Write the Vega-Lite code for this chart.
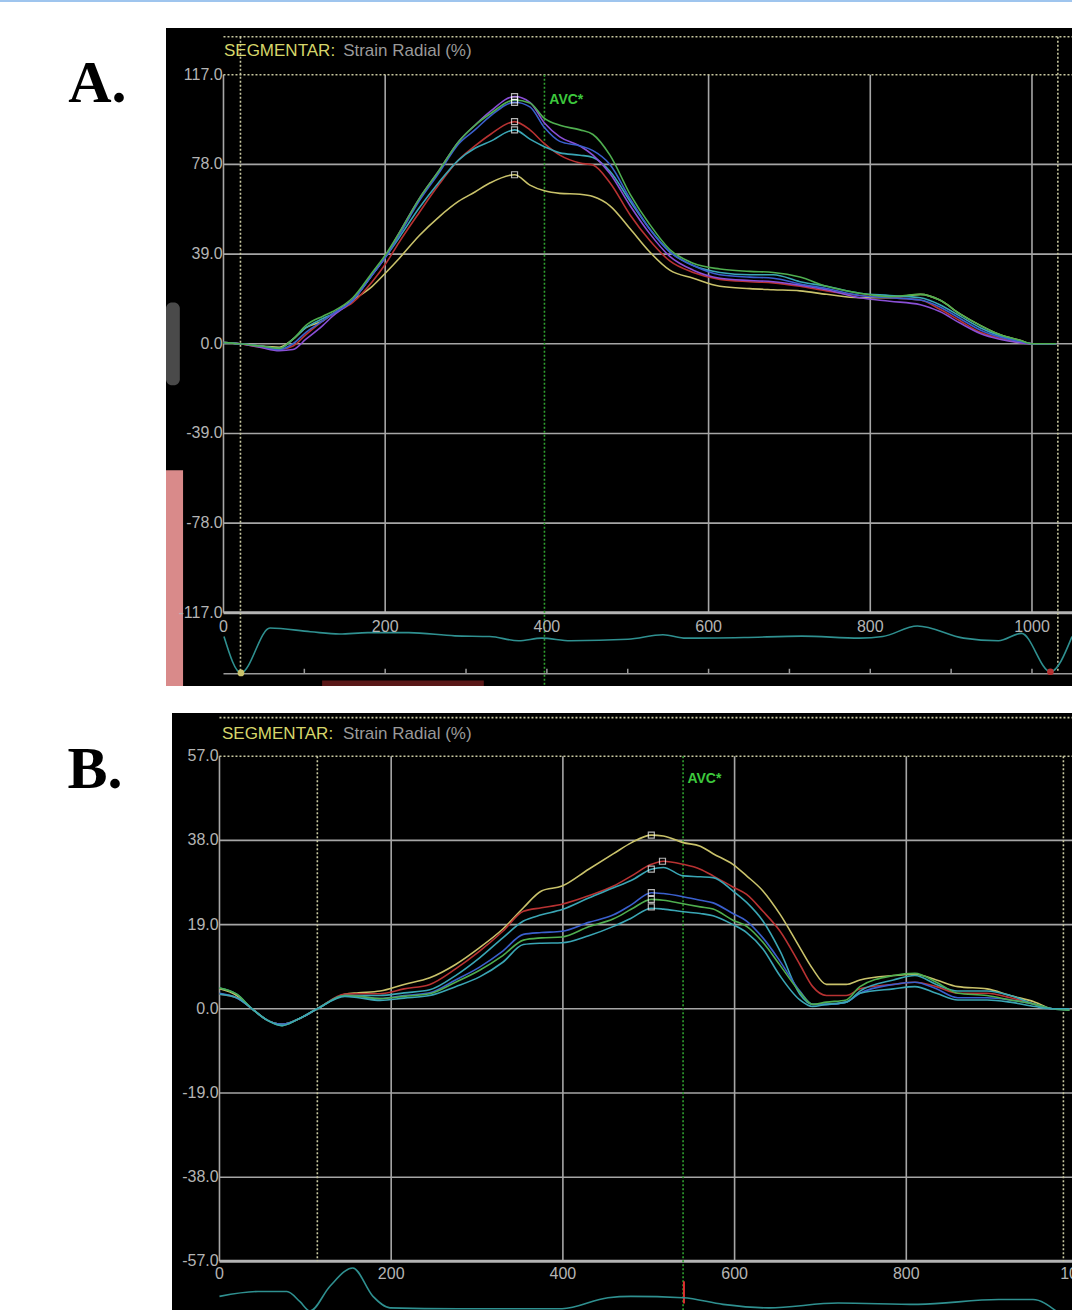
{
  "$schema": "https://vega.github.io/schema/vega-lite/v6.json",
  "padding": 0,
  "spacing": 26,
  "background": "white",
  "config": {"view": {"stroke": null}},
  "datasets": {
    "a_curves": [
      {"seg":"yellow","t":0,"v":0.5},{"seg":"yellow","t":20,"v":0},{"seg":"yellow","t":45,"v":-1},{"seg":"yellow","t":69,"v":-1.5},{"seg":"yellow","t":86,"v":2},{"seg":"yellow","t":102,"v":7},{"seg":"yellow","t":123,"v":10},{"seg":"yellow","t":135,"v":13},{"seg":"yellow","t":160,"v":19},{"seg":"yellow","t":184,"v":25},{"seg":"yellow","t":201,"v":31},{"seg":"yellow","t":217,"v":37},{"seg":"yellow","t":242,"v":47},{"seg":"yellow","t":266,"v":55},{"seg":"yellow","t":291,"v":62},{"seg":"yellow","t":311,"v":66},{"seg":"yellow","t":330,"v":70},{"seg":"yellow","t":360,"v":73.5},{"seg":"yellow","t":379,"v":69},{"seg":"yellow","t":397,"v":66.5},{"seg":"yellow","t":416,"v":65.4},{"seg":"yellow","t":441,"v":65},{"seg":"yellow","t":457,"v":64},{"seg":"yellow","t":478,"v":60},{"seg":"yellow","t":503,"v":50},{"seg":"yellow","t":527,"v":40},{"seg":"yellow","t":552,"v":32},{"seg":"yellow","t":581,"v":28.5},{"seg":"yellow","t":614,"v":25},{"seg":"yellow","t":651,"v":24},{"seg":"yellow","t":680,"v":23.5},{"seg":"yellow","t":713,"v":23},{"seg":"yellow","t":746,"v":21.5},{"seg":"yellow","t":787,"v":20},{"seg":"yellow","t":824,"v":20},{"seg":"yellow","t":862,"v":21.5},{"seg":"yellow","t":886,"v":19},{"seg":"yellow","t":911,"v":13},{"seg":"yellow","t":936,"v":8},{"seg":"yellow","t":960,"v":4},{"seg":"yellow","t":985,"v":1.5},{"seg":"yellow","t":1001,"v":0},{"seg":"yellow","t":1030,"v":0},
      {"seg":"red","t":0,"v":0.5},{"seg":"red","t":20,"v":0},{"seg":"red","t":45,"v":-1.5},{"seg":"red","t":69,"v":-2.5},{"seg":"red","t":86,"v":-1},{"seg":"red","t":102,"v":4},{"seg":"red","t":123,"v":10},{"seg":"red","t":135,"v":13},{"seg":"red","t":160,"v":18},{"seg":"red","t":184,"v":27},{"seg":"red","t":201,"v":35},{"seg":"red","t":217,"v":44},{"seg":"red","t":242,"v":57},{"seg":"red","t":266,"v":69},{"seg":"red","t":291,"v":80},{"seg":"red","t":311,"v":86},{"seg":"red","t":330,"v":91},{"seg":"red","t":360,"v":96.6},{"seg":"red","t":379,"v":93},{"seg":"red","t":397,"v":87},{"seg":"red","t":416,"v":82},{"seg":"red","t":441,"v":78.6},{"seg":"red","t":457,"v":77.7},{"seg":"red","t":478,"v":70},{"seg":"red","t":503,"v":56},{"seg":"red","t":527,"v":45},{"seg":"red","t":552,"v":36},{"seg":"red","t":581,"v":31},{"seg":"red","t":614,"v":28},{"seg":"red","t":651,"v":27},{"seg":"red","t":680,"v":26.5},{"seg":"red","t":713,"v":25},{"seg":"red","t":746,"v":23},{"seg":"red","t":787,"v":21},{"seg":"red","t":824,"v":20},{"seg":"red","t":862,"v":19},{"seg":"red","t":886,"v":15},{"seg":"red","t":911,"v":10},{"seg":"red","t":936,"v":5},{"seg":"red","t":960,"v":2.5},{"seg":"red","t":985,"v":0.5},{"seg":"red","t":1001,"v":0},{"seg":"red","t":1030,"v":0},
      {"seg":"cyan","t":0,"v":0.5},{"seg":"cyan","t":20,"v":0},{"seg":"cyan","t":45,"v":-1},{"seg":"cyan","t":69,"v":-2},{"seg":"cyan","t":86,"v":2},{"seg":"cyan","t":102,"v":7},{"seg":"cyan","t":123,"v":11},{"seg":"cyan","t":135,"v":13},{"seg":"cyan","t":160,"v":19},{"seg":"cyan","t":184,"v":30},{"seg":"cyan","t":201,"v":38},{"seg":"cyan","t":217,"v":46},{"seg":"cyan","t":242,"v":59},{"seg":"cyan","t":266,"v":70},{"seg":"cyan","t":291,"v":80},{"seg":"cyan","t":311,"v":85},{"seg":"cyan","t":330,"v":88},{"seg":"cyan","t":360,"v":93},{"seg":"cyan","t":379,"v":89},{"seg":"cyan","t":397,"v":85.7},{"seg":"cyan","t":416,"v":83},{"seg":"cyan","t":441,"v":82},{"seg":"cyan","t":457,"v":81},{"seg":"cyan","t":478,"v":75},{"seg":"cyan","t":503,"v":62},{"seg":"cyan","t":527,"v":50},{"seg":"cyan","t":552,"v":40},{"seg":"cyan","t":581,"v":34},{"seg":"cyan","t":614,"v":31},{"seg":"cyan","t":651,"v":30},{"seg":"cyan","t":680,"v":30},{"seg":"cyan","t":713,"v":27},{"seg":"cyan","t":746,"v":25},{"seg":"cyan","t":787,"v":22},{"seg":"cyan","t":824,"v":21},{"seg":"cyan","t":862,"v":20},{"seg":"cyan","t":886,"v":17},{"seg":"cyan","t":911,"v":12},{"seg":"cyan","t":936,"v":7},{"seg":"cyan","t":960,"v":3.5},{"seg":"cyan","t":985,"v":1},{"seg":"cyan","t":1001,"v":0},{"seg":"cyan","t":1030,"v":0},
      {"seg":"purple","t":0,"v":0.5},{"seg":"purple","t":20,"v":0},{"seg":"purple","t":45,"v":-1.5},{"seg":"purple","t":69,"v":-3},{"seg":"purple","t":86,"v":-2.5},{"seg":"purple","t":102,"v":2},{"seg":"purple","t":123,"v":8},{"seg":"purple","t":135,"v":12},{"seg":"purple","t":160,"v":19},{"seg":"purple","t":184,"v":30},{"seg":"purple","t":201,"v":38},{"seg":"purple","t":217,"v":48},{"seg":"purple","t":242,"v":63},{"seg":"purple","t":266,"v":75},{"seg":"purple","t":291,"v":88},{"seg":"purple","t":311,"v":95},{"seg":"purple","t":330,"v":101},{"seg":"purple","t":360,"v":107.5},{"seg":"purple","t":379,"v":105},{"seg":"purple","t":397,"v":96},{"seg":"purple","t":416,"v":90},{"seg":"purple","t":441,"v":86},{"seg":"purple","t":457,"v":82},{"seg":"purple","t":478,"v":74},{"seg":"purple","t":503,"v":60},{"seg":"purple","t":527,"v":48},{"seg":"purple","t":552,"v":38},{"seg":"purple","t":581,"v":32},{"seg":"purple","t":614,"v":28.5},{"seg":"purple","t":651,"v":27.5},{"seg":"purple","t":680,"v":27},{"seg":"purple","t":713,"v":25.5},{"seg":"purple","t":746,"v":23.5},{"seg":"purple","t":787,"v":20},{"seg":"purple","t":824,"v":18.5},{"seg":"purple","t":862,"v":17},{"seg":"purple","t":886,"v":14},{"seg":"purple","t":911,"v":9},{"seg":"purple","t":936,"v":4.5},{"seg":"purple","t":960,"v":2},{"seg":"purple","t":985,"v":0.5},{"seg":"purple","t":1001,"v":0},{"seg":"purple","t":1030,"v":0},
      {"seg":"blue","t":0,"v":0.5},{"seg":"blue","t":20,"v":0},{"seg":"blue","t":45,"v":-1},{"seg":"blue","t":69,"v":-2.5},{"seg":"blue","t":86,"v":0},{"seg":"blue","t":102,"v":5},{"seg":"blue","t":123,"v":10},{"seg":"blue","t":135,"v":13},{"seg":"blue","t":160,"v":19},{"seg":"blue","t":184,"v":30},{"seg":"blue","t":201,"v":38},{"seg":"blue","t":217,"v":47},{"seg":"blue","t":242,"v":62},{"seg":"blue","t":266,"v":74},{"seg":"blue","t":291,"v":87},{"seg":"blue","t":311,"v":93},{"seg":"blue","t":330,"v":99},{"seg":"blue","t":360,"v":105},{"seg":"blue","t":379,"v":103},{"seg":"blue","t":397,"v":94},{"seg":"blue","t":416,"v":88},{"seg":"blue","t":441,"v":86},{"seg":"blue","t":457,"v":84},{"seg":"blue","t":478,"v":78},{"seg":"blue","t":503,"v":63},{"seg":"blue","t":527,"v":50},{"seg":"blue","t":552,"v":40},{"seg":"blue","t":581,"v":34},{"seg":"blue","t":614,"v":30},{"seg":"blue","t":651,"v":29},{"seg":"blue","t":680,"v":28.5},{"seg":"blue","t":713,"v":26},{"seg":"blue","t":746,"v":24},{"seg":"blue","t":787,"v":21},{"seg":"blue","t":824,"v":20},{"seg":"blue","t":862,"v":19},{"seg":"blue","t":886,"v":16},{"seg":"blue","t":911,"v":11},{"seg":"blue","t":936,"v":6},{"seg":"blue","t":960,"v":3},{"seg":"blue","t":985,"v":1},{"seg":"blue","t":1001,"v":0},{"seg":"blue","t":1030,"v":0},
      {"seg":"green","t":0,"v":0.5},{"seg":"green","t":20,"v":0},{"seg":"green","t":45,"v":-1},{"seg":"green","t":69,"v":-2},{"seg":"green","t":86,"v":2},{"seg":"green","t":102,"v":8},{"seg":"green","t":123,"v":12},{"seg":"green","t":135,"v":14},{"seg":"green","t":160,"v":20},{"seg":"green","t":184,"v":31},{"seg":"green","t":201,"v":39},{"seg":"green","t":217,"v":48},{"seg":"green","t":242,"v":63},{"seg":"green","t":266,"v":75},{"seg":"green","t":291,"v":88},{"seg":"green","t":311,"v":95},{"seg":"green","t":330,"v":100},{"seg":"green","t":360,"v":106},{"seg":"green","t":379,"v":104.7},{"seg":"green","t":397,"v":98},{"seg":"green","t":416,"v":95},{"seg":"green","t":441,"v":93},{"seg":"green","t":457,"v":91},{"seg":"green","t":478,"v":82},{"seg":"green","t":503,"v":65},{"seg":"green","t":527,"v":52},{"seg":"green","t":552,"v":41},{"seg":"green","t":581,"v":35},{"seg":"green","t":614,"v":32.5},{"seg":"green","t":651,"v":31.5},{"seg":"green","t":680,"v":31},{"seg":"green","t":713,"v":29},{"seg":"green","t":746,"v":25},{"seg":"green","t":787,"v":22},{"seg":"green","t":824,"v":20.5},{"seg":"green","t":862,"v":21.5},{"seg":"green","t":886,"v":19},{"seg":"green","t":911,"v":13},{"seg":"green","t":936,"v":8},{"seg":"green","t":960,"v":4},{"seg":"green","t":985,"v":1.5},{"seg":"green","t":1001,"v":0},{"seg":"green","t":1030,"v":0}
    ],
    "a_peaks": [
      {"seg":"purple","t":360,"v":107.5},{"seg":"green","t":360,"v":106},{"seg":"blue","t":360,"v":105},{"seg":"red","t":360,"v":96.6},{"seg":"cyan","t":360,"v":93},{"seg":"yellow","t":360,"v":73.5}
    ],
    "a_ecg": [
      {"t":0.6,"v":-127.3},{"t":21.6,"v":-143.1},{"t":57.5,"v":-123.6},{"t":107.6,"v":-125.2},{"t":143.4,"v":-126.2},{"t":178.7,"v":-125.6},{"t":229.2,"v":-125.6},{"t":286.3,"v":-127.0},{"t":329.3,"v":-127.3},{"t":365,"v":-129.1},{"t":393.6,"v":-128.0},{"t":429.3,"v":-129.1},{"t":500.3,"v":-128.5},{"t":543.6,"v":-126.5},{"t":572,"v":-128.0},{"t":643.8,"v":-127.7},{"t":715.3,"v":-127.1},{"t":786.8,"v":-128.0},{"t":815.5,"v":-127.3},{"t":858.3,"v":-122.7},{"t":915.5,"v":-128.0},{"t":958.5,"v":-129.1},{"t":987,"v":-125.9},{"t":1022.8,"v":-142.6},{"t":1049.5,"v":-127.3}
    ],
    "a_ecg_marks": [
      {"kind":"start","t":21.6,"v":-143.1},{"kind":"end","t":1022.8,"v":-142.6}
    ],
    "b_curves": [
      {"seg":"yellow","t":0,"v":4.5},{"seg":"yellow","t":20,"v":3},{"seg":"yellow","t":38,"v":0},{"seg":"yellow","t":55,"v":-2.5},{"seg":"yellow","t":73,"v":-3.5},{"seg":"yellow","t":90,"v":-2.5},{"seg":"yellow","t":114,"v":0},{"seg":"yellow","t":146,"v":3.3},{"seg":"yellow","t":162,"v":3.6},{"seg":"yellow","t":187,"v":4},{"seg":"yellow","t":215,"v":5.5},{"seg":"yellow","t":245,"v":7},{"seg":"yellow","t":275,"v":10},{"seg":"yellow","t":303,"v":13.8},{"seg":"yellow","t":330,"v":18},{"seg":"yellow","t":354,"v":22.8},{"seg":"yellow","t":375,"v":26.6},{"seg":"yellow","t":399,"v":27.7},{"seg":"yellow","t":430,"v":31.5},{"seg":"yellow","t":459,"v":35},{"seg":"yellow","t":480,"v":37.5},{"seg":"yellow","t":503,"v":39.2},{"seg":"yellow","t":517,"v":39},{"seg":"yellow","t":540,"v":37.5},{"seg":"yellow","t":560,"v":36.7},{"seg":"yellow","t":575,"v":35},{"seg":"yellow","t":598,"v":32.6},{"seg":"yellow","t":614,"v":30},{"seg":"yellow","t":633,"v":26.6},{"seg":"yellow","t":653,"v":21.3},{"seg":"yellow","t":676,"v":13.8},{"seg":"yellow","t":691,"v":9},{"seg":"yellow","t":707,"v":5.5},{"seg":"yellow","t":730,"v":5.5},{"seg":"yellow","t":746,"v":6.5},{"seg":"yellow","t":785,"v":7.5},{"seg":"yellow","t":810,"v":7.8},{"seg":"yellow","t":835,"v":6.5},{"seg":"yellow","t":860,"v":5},{"seg":"yellow","t":894,"v":4.5},{"seg":"yellow","t":921,"v":3},{"seg":"yellow","t":950,"v":1.5},{"seg":"yellow","t":970,"v":0},{"seg":"yellow","t":990,"v":0},
      {"seg":"red","t":0,"v":3.3},{"seg":"red","t":20,"v":2.5},{"seg":"red","t":38,"v":0},{"seg":"red","t":55,"v":-2.5},{"seg":"red","t":73,"v":-3.5},{"seg":"red","t":90,"v":-2.5},{"seg":"red","t":114,"v":0},{"seg":"red","t":146,"v":3.3},{"seg":"red","t":162,"v":3.4},{"seg":"red","t":187,"v":3.4},{"seg":"red","t":215,"v":4.5},{"seg":"red","t":245,"v":5.5},{"seg":"red","t":275,"v":9},{"seg":"red","t":303,"v":13},{"seg":"red","t":330,"v":17.5},{"seg":"red","t":354,"v":22},{"seg":"red","t":375,"v":22.8},{"seg":"red","t":399,"v":23.6},{"seg":"red","t":430,"v":25.5},{"seg":"red","t":459,"v":27.7},{"seg":"red","t":480,"v":30},{"seg":"red","t":503,"v":32.6},{"seg":"red","t":517,"v":33.3},{"seg":"red","t":540,"v":32.6},{"seg":"red","t":560,"v":31.5},{"seg":"red","t":575,"v":30},{"seg":"red","t":598,"v":27.5},{"seg":"red","t":614,"v":25.8},{"seg":"red","t":633,"v":22},{"seg":"red","t":653,"v":17.5},{"seg":"red","t":676,"v":10},{"seg":"red","t":691,"v":5},{"seg":"red","t":707,"v":3},{"seg":"red","t":730,"v":3},{"seg":"red","t":746,"v":4.5},{"seg":"red","t":785,"v":5.5},{"seg":"red","t":810,"v":6},{"seg":"red","t":835,"v":5},{"seg":"red","t":860,"v":3.5},{"seg":"red","t":894,"v":3.5},{"seg":"red","t":921,"v":2.5},{"seg":"red","t":950,"v":1},{"seg":"red","t":970,"v":0},{"seg":"red","t":990,"v":0},
      {"seg":"cyan","t":0,"v":4.7},{"seg":"cyan","t":20,"v":3.3},{"seg":"cyan","t":38,"v":0},{"seg":"cyan","t":55,"v":-2.5},{"seg":"cyan","t":73,"v":-3.5},{"seg":"cyan","t":90,"v":-2.5},{"seg":"cyan","t":114,"v":0},{"seg":"cyan","t":146,"v":3},{"seg":"cyan","t":162,"v":3},{"seg":"cyan","t":187,"v":3},{"seg":"cyan","t":215,"v":3.6},{"seg":"cyan","t":245,"v":4.3},{"seg":"cyan","t":275,"v":7.5},{"seg":"cyan","t":303,"v":11.5},{"seg":"cyan","t":330,"v":16},{"seg":"cyan","t":354,"v":19.8},{"seg":"cyan","t":375,"v":21.2},{"seg":"cyan","t":399,"v":22.4},{"seg":"cyan","t":430,"v":25},{"seg":"cyan","t":459,"v":27.3},{"seg":"cyan","t":480,"v":29},{"seg":"cyan","t":503,"v":31.5},{"seg":"cyan","t":517,"v":31.9},{"seg":"cyan","t":540,"v":30},{"seg":"cyan","t":560,"v":29.8},{"seg":"cyan","t":575,"v":29.6},{"seg":"cyan","t":598,"v":26.6},{"seg":"cyan","t":614,"v":24},{"seg":"cyan","t":633,"v":19.8},{"seg":"cyan","t":653,"v":13},{"seg":"cyan","t":676,"v":3.3},{"seg":"cyan","t":691,"v":1},{"seg":"cyan","t":707,"v":1},{"seg":"cyan","t":730,"v":1.5},{"seg":"cyan","t":746,"v":4},{"seg":"cyan","t":785,"v":6.5},{"seg":"cyan","t":810,"v":7.5},{"seg":"cyan","t":835,"v":5.5},{"seg":"cyan","t":860,"v":4},{"seg":"cyan","t":894,"v":4},{"seg":"cyan","t":921,"v":3},{"seg":"cyan","t":950,"v":1},{"seg":"cyan","t":970,"v":0},{"seg":"cyan","t":990,"v":-0.3},
      {"seg":"blue","t":0,"v":3.5},{"seg":"blue","t":20,"v":2.5},{"seg":"blue","t":38,"v":0},{"seg":"blue","t":55,"v":-2.5},{"seg":"blue","t":73,"v":-3.5},{"seg":"blue","t":90,"v":-2.5},{"seg":"blue","t":114,"v":0},{"seg":"blue","t":146,"v":3},{"seg":"blue","t":162,"v":2.8},{"seg":"blue","t":187,"v":2.3},{"seg":"blue","t":215,"v":3},{"seg":"blue","t":245,"v":3.6},{"seg":"blue","t":275,"v":6.5},{"seg":"blue","t":303,"v":9.4},{"seg":"blue","t":330,"v":13},{"seg":"blue","t":354,"v":16.8},{"seg":"blue","t":375,"v":17.2},{"seg":"blue","t":399,"v":17.5},{"seg":"blue","t":430,"v":19.5},{"seg":"blue","t":459,"v":21.2},{"seg":"blue","t":480,"v":23.5},{"seg":"blue","t":503,"v":26.2},{"seg":"blue","t":517,"v":26},{"seg":"blue","t":540,"v":25.3},{"seg":"blue","t":560,"v":24.5},{"seg":"blue","t":575,"v":23.9},{"seg":"blue","t":598,"v":21.5},{"seg":"blue","t":614,"v":19.8},{"seg":"blue","t":633,"v":16},{"seg":"blue","t":653,"v":10.7},{"seg":"blue","t":676,"v":4},{"seg":"blue","t":691,"v":1},{"seg":"blue","t":707,"v":1},{"seg":"blue","t":730,"v":1.5},{"seg":"blue","t":746,"v":3.5},{"seg":"blue","t":785,"v":5.5},{"seg":"blue","t":810,"v":6},{"seg":"blue","t":835,"v":4.5},{"seg":"blue","t":860,"v":2.5},{"seg":"blue","t":894,"v":2.5},{"seg":"blue","t":921,"v":2},{"seg":"blue","t":950,"v":1},{"seg":"blue","t":970,"v":0},{"seg":"blue","t":990,"v":0},
      {"seg":"green","t":0,"v":4.7},{"seg":"green","t":20,"v":3.3},{"seg":"green","t":38,"v":0},{"seg":"green","t":55,"v":-2.5},{"seg":"green","t":73,"v":-3.8},{"seg":"green","t":90,"v":-2.5},{"seg":"green","t":114,"v":0},{"seg":"green","t":146,"v":3},{"seg":"green","t":162,"v":2.8},{"seg":"green","t":187,"v":2.3},{"seg":"green","t":215,"v":2.8},{"seg":"green","t":245,"v":3.4},{"seg":"green","t":275,"v":6},{"seg":"green","t":303,"v":8.7},{"seg":"green","t":330,"v":12},{"seg":"green","t":354,"v":15.5},{"seg":"green","t":375,"v":16},{"seg":"green","t":399,"v":16.2},{"seg":"green","t":430,"v":18.5},{"seg":"green","t":459,"v":20.3},{"seg":"green","t":480,"v":22.5},{"seg":"green","t":503,"v":24.7},{"seg":"green","t":517,"v":24.5},{"seg":"green","t":540,"v":23.7},{"seg":"green","t":560,"v":23},{"seg":"green","t":575,"v":22.5},{"seg":"green","t":598,"v":20},{"seg":"green","t":614,"v":18.6},{"seg":"green","t":633,"v":15},{"seg":"green","t":653,"v":9.8},{"seg":"green","t":676,"v":3.8},{"seg":"green","t":691,"v":1},{"seg":"green","t":707,"v":1.5},{"seg":"green","t":730,"v":2},{"seg":"green","t":746,"v":5},{"seg":"green","t":785,"v":7.5},{"seg":"green","t":810,"v":8},{"seg":"green","t":835,"v":6},{"seg":"green","t":860,"v":3.5},{"seg":"green","t":894,"v":3},{"seg":"green","t":921,"v":2},{"seg":"green","t":950,"v":1},{"seg":"green","t":970,"v":0},{"seg":"green","t":990,"v":-0.3},
      {"seg":"magenta","t":0,"v":3.3},{"seg":"magenta","t":20,"v":2.5},{"seg":"magenta","t":38,"v":0},{"seg":"magenta","t":55,"v":-2.5},{"seg":"magenta","t":73,"v":-3.8},{"seg":"magenta","t":90,"v":-2.5},{"seg":"magenta","t":114,"v":0},{"seg":"magenta","t":146,"v":2.8},{"seg":"magenta","t":162,"v":2.5},{"seg":"magenta","t":187,"v":1.9},{"seg":"magenta","t":215,"v":2.4},{"seg":"magenta","t":245,"v":3},{"seg":"magenta","t":275,"v":5},{"seg":"magenta","t":303,"v":7.2},{"seg":"magenta","t":330,"v":10.5},{"seg":"magenta","t":354,"v":14.5},{"seg":"magenta","t":375,"v":14.8},{"seg":"magenta","t":399,"v":14.9},{"seg":"magenta","t":430,"v":16.5},{"seg":"magenta","t":459,"v":18.6},{"seg":"magenta","t":480,"v":20.5},{"seg":"magenta","t":503,"v":22.7},{"seg":"magenta","t":517,"v":22.5},{"seg":"magenta","t":540,"v":21.9},{"seg":"magenta","t":560,"v":21.5},{"seg":"magenta","t":575,"v":21},{"seg":"magenta","t":598,"v":19},{"seg":"magenta","t":614,"v":17.2},{"seg":"magenta","t":633,"v":13.5},{"seg":"magenta","t":653,"v":7.4},{"seg":"magenta","t":676,"v":2},{"seg":"magenta","t":691,"v":0.5},{"seg":"magenta","t":707,"v":1},{"seg":"magenta","t":730,"v":1.5},{"seg":"magenta","t":746,"v":3.5},{"seg":"magenta","t":785,"v":4.5},{"seg":"magenta","t":810,"v":5},{"seg":"magenta","t":835,"v":3.5},{"seg":"magenta","t":860,"v":2},{"seg":"magenta","t":894,"v":2},{"seg":"magenta","t":921,"v":1.5},{"seg":"magenta","t":950,"v":0.5},{"seg":"magenta","t":970,"v":0},{"seg":"magenta","t":990,"v":0}
    ],
    "b_peaks": [
      {"seg":"yellow","t":503,"v":39.2},{"seg":"red","t":516,"v":33.3},{"seg":"cyan","t":503,"v":31.5},{"seg":"blue","t":503,"v":26.2},{"seg":"green","t":503,"v":24.7},{"seg":"magenta","t":503,"v":23}
    ],
    "b_ecg": [
      {"t":0,"v":-64.9},{"t":44.8,"v":-63.8},{"t":78.6,"v":-63.8},{"t":93.8,"v":-66.1},{"t":105.4,"v":-68.2},{"t":128.7,"v":-62.6},{"t":155.3,"v":-58.5},{"t":178.8,"v":-64.9},{"t":198.6,"v":-67.5},{"t":279,"v":-67.7},{"t":399,"v":-67.7},{"t":452.5,"v":-65.2},{"t":479.3,"v":-64.9},{"t":539.9,"v":-65.2},{"t":586.5,"v":-66.7},{"t":640,"v":-67.5},{"t":720.4,"v":-66.4},{"t":813.6,"v":-66.7},{"t":907.5,"v":-65.6},{"t":947.6,"v":-65.6},{"t":974.4,"v":-68.2}
    ]
  },
  "vconcat": [
    {
      "width": 1072, "height": 2,
      "data": {"values": [{}]},
      "mark": {"type": "rect", "color": "#9fc5ee"}
    },
    {
      "spacing": 0,
      "hconcat": [
        {
          "width": 166, "height": 104,
          "data": {"values": [{"label": "A."}]},
          "mark": {"type": "text", "font": "Liberation Serif", "fontWeight": "bold", "fontSize": 60, "align": "center", "baseline": "alphabetic", "color": "#000000"},
          "encoding": {
            "text": {"field": "label"},
            "x": {"datum": 0.587, "type": "quantitative", "scale": {"domain": [0, 1], "nice": false, "zero": false}, "axis": null},
            "y": {"datum": 0.288, "type": "quantitative", "scale": {"domain": [0, 1], "nice": false, "zero": false}, "axis": null}
          }
        },
        {
          "width": 906, "height": 658,
          "view": {"fill": "#000000", "stroke": null},
          "layer": [
            {
              "data": {"values": [{}]},
              "mark": {"type": "rect", "color": "#d98a8a"},
              "encoding": {
                "x": {"datum": -71.1, "type": "quantitative", "scale": {"domain": [-71.1, 1049.5], "nice": false, "zero": false}, "axis": null},
                "x2": {"datum": -50},
                "y": {"datum": -55, "type": "quantitative", "scale": {"domain": [-148.8, 137.3], "nice": false, "zero": false}, "axis": null},
                "y2": {"datum": -148.8}
              }
            },
            {
              "data": {"values": [{}]},
              "mark": {"type": "rect", "color": "#4a4a4a", "cornerRadius": 6},
              "encoding": {
                "x": {"datum": -71.1, "type": "quantitative", "scale": {"domain": [-71.1, 1049.5], "nice": false, "zero": false}, "axis": null},
                "x2": {"datum": -54},
                "y": {"datum": 18, "type": "quantitative", "scale": {"domain": [-148.8, 137.3], "nice": false, "zero": false}, "axis": null},
                "y2": {"datum": -18}
              }
            },
            {
              "data": {"values": [{}]},
              "mark": {"type": "rect", "color": "#5a1818"},
              "encoding": {
                "x": {"datum": 122, "type": "quantitative", "scale": {"domain": [-71.1, 1049.5], "nice": false, "zero": false}, "axis": null},
                "x2": {"datum": 322},
                "y": {"datum": -146.4, "type": "quantitative", "scale": {"domain": [-148.8, 137.3], "nice": false, "zero": false}, "axis": null},
                "y2": {"datum": -148.8}
              }
            },
            {
              "data": {"values": [{"v": 78}, {"v": 39}, {"v": 0}, {"v": -39}, {"v": -78}]},
              "mark": {"type": "rule", "color": "#a6a6a6", "strokeWidth": 1.6},
              "encoding": {
                "y": {"field": "v", "type": "quantitative", "scale": {"domain": [-148.8, 137.3], "nice": false, "zero": false}, "axis": null},
                "x": {"datum": 0, "type": "quantitative", "scale": {"domain": [-71.1, 1049.5], "nice": false, "zero": false}, "axis": null},
                "x2": {"datum": 1049.5}
              }
            },
            {
              "data": {"values": [{"t": 0}, {"t": 200}, {"t": 600}, {"t": 800}, {"t": 1000}]},
              "mark": {"type": "rule", "color": "#a6a6a6", "strokeWidth": 1.6},
              "encoding": {
                "x": {"field": "t", "type": "quantitative", "scale": {"domain": [-71.1, 1049.5], "nice": false, "zero": false}, "axis": null},
                "y": {"datum": -117, "type": "quantitative", "scale": {"domain": [-148.8, 137.3], "nice": false, "zero": false}, "axis": null},
                "y2": {"datum": 117}
              }
            },
            {
              "data": {"values": [{"v": -117}]},
              "mark": {"type": "rule", "color": "#b4b4b4", "strokeWidth": 3},
              "encoding": {
                "y": {"field": "v", "type": "quantitative", "scale": {"domain": [-148.8, 137.3], "nice": false, "zero": false}, "axis": null},
                "x": {"datum": 0, "type": "quantitative", "scale": {"domain": [-71.1, 1049.5], "nice": false, "zero": false}, "axis": null},
                "x2": {"datum": 1049.5}
              }
            },
            {
              "data": {"values": [{"v": 133.5}, {"v": 117}]},
              "mark": {"type": "rule", "color": "#c8c8a0", "strokeWidth": 1.6, "strokeDash": [2, 2]},
              "encoding": {
                "y": {"field": "v", "type": "quantitative", "scale": {"domain": [-148.8, 137.3], "nice": false, "zero": false}, "axis": null},
                "x": {"datum": 0, "type": "quantitative", "scale": {"domain": [-71.1, 1049.5], "nice": false, "zero": false}, "axis": null},
                "x2": {"datum": 1049.5}
              }
            },
            {
              "data": {"values": [{"t": 21}, {"t": 1032}]},
              "mark": {"type": "rule", "color": "#c8c8a0", "strokeWidth": 1.6, "strokeDash": [2, 2]},
              "encoding": {
                "x": {"field": "t", "type": "quantitative", "scale": {"domain": [-71.1, 1049.5], "nice": false, "zero": false}, "axis": null},
                "y": {"datum": 133.5, "type": "quantitative", "scale": {"domain": [-148.8, 137.3], "nice": false, "zero": false}, "axis": null},
                "y2": {"datum": -143}
              }
            },
            {
              "data": {"values": [{"t": 397}]},
              "mark": {"type": "rule", "color": "#2fa02f", "strokeWidth": 1.6, "strokeDash": [2, 2]},
              "encoding": {
                "x": {"field": "t", "type": "quantitative", "scale": {"domain": [-71.1, 1049.5], "nice": false, "zero": false}, "axis": null},
                "y": {"datum": 117, "type": "quantitative", "scale": {"domain": [-148.8, 137.3], "nice": false, "zero": false}, "axis": null},
                "y2": {"datum": -148.8}
              }
            },
            {
              "data": {"values": [{"v": -143.5}]},
              "mark": {"type": "rule", "color": "#9a9a9a", "strokeWidth": 1.5},
              "encoding": {
                "y": {"field": "v", "type": "quantitative", "scale": {"domain": [-148.8, 137.3], "nice": false, "zero": false}, "axis": null},
                "x": {"datum": 0, "type": "quantitative", "scale": {"domain": [-71.1, 1049.5], "nice": false, "zero": false}, "axis": null},
                "x2": {"datum": 1049.5}
              }
            },
            {
              "data": {"values": [{"t": 100}, {"t": 200}, {"t": 300}, {"t": 400}, {"t": 500}, {"t": 600}, {"t": 700}, {"t": 800}, {"t": 900}, {"t": 1000}]},
              "mark": {"type": "rule", "color": "#9a9a9a", "strokeWidth": 1.5},
              "encoding": {
                "x": {"field": "t", "type": "quantitative", "scale": {"domain": [-71.1, 1049.5], "nice": false, "zero": false}, "axis": null},
                "y": {"datum": -143.5, "type": "quantitative", "scale": {"domain": [-148.8, 137.3], "nice": false, "zero": false}, "axis": null},
                "y2": {"datum": -141.3}
              }
            },
            {
              "data": {"name": "a_curves"},
              "mark": {"type": "line", "strokeWidth": 1.6, "interpolate": "monotone"},
              "encoding": {
                "x": {"field": "t", "type": "quantitative", "scale": {"domain": [-71.1, 1049.5], "nice": false, "zero": false}, "axis": null},
                "y": {"field": "v", "type": "quantitative", "scale": {"domain": [-148.8, 137.3], "nice": false, "zero": false}, "axis": null},
                "color": {"field": "seg", "type": "nominal", "legend": null, "scale": {"domain": ["yellow", "red", "cyan", "purple", "blue", "green"], "range": ["#c9c26a", "#b83232", "#3aa6b5", "#8a4fd6", "#3a5fcd", "#4fae4f"]}}
              }
            },
            {
              "data": {"name": "a_peaks"},
              "mark": {"type": "point", "shape": "square", "filled": false, "color": "#ffffff", "size": 36, "strokeWidth": 1.2},
              "encoding": {
                "x": {"field": "t", "type": "quantitative", "scale": {"domain": [-71.1, 1049.5], "nice": false, "zero": false}, "axis": null},
                "y": {"field": "v", "type": "quantitative", "scale": {"domain": [-148.8, 137.3], "nice": false, "zero": false}, "axis": null}
              }
            },
            {
              "data": {"name": "a_ecg"},
              "mark": {"type": "line", "color": "#2f9090", "strokeWidth": 1.6, "interpolate": "monotone"},
              "encoding": {
                "x": {"field": "t", "type": "quantitative", "scale": {"domain": [-71.1, 1049.5], "nice": false, "zero": false}, "axis": null},
                "y": {"field": "v", "type": "quantitative", "scale": {"domain": [-148.8, 137.3], "nice": false, "zero": false}, "axis": null}
              }
            },
            {
              "data": {"name": "a_ecg_marks"},
              "mark": {"type": "point", "shape": "circle", "filled": true, "size": 45, "opacity": 1},
              "encoding": {
                "x": {"field": "t", "type": "quantitative", "scale": {"domain": [-71.1, 1049.5], "nice": false, "zero": false}, "axis": null},
                "y": {"field": "v", "type": "quantitative", "scale": {"domain": [-148.8, 137.3], "nice": false, "zero": false}, "axis": null},
                "color": {"field": "kind", "type": "nominal", "legend": null, "scale": {"domain": ["start", "end"], "range": ["#e8e830", "#f0a030"]}}
              }
            },
            {
              "data": {"values": [{"v": 117, "label": "117.0"}, {"v": 78, "label": "78.0"}, {"v": 39, "label": "39.0"}, {"v": 0, "label": "0.0"}, {"v": -39, "label": "-39.0"}, {"v": -78, "label": "-78.0"}, {"v": -117, "label": "-117.0"}]},
              "mark": {"type": "text", "font": "Liberation Sans", "fontSize": 16, "color": "#b4b4b4", "align": "right", "baseline": "middle"},
              "encoding": {
                "text": {"field": "label"},
                "y": {"field": "v", "type": "quantitative", "scale": {"domain": [-148.8, 137.3], "nice": false, "zero": false}, "axis": null},
                "x": {"datum": -1, "type": "quantitative", "scale": {"domain": [-71.1, 1049.5], "nice": false, "zero": false}, "axis": null}
              }
            },
            {
              "data": {"values": [{"t": 0}, {"t": 200}, {"t": 400}, {"t": 600}, {"t": 800}, {"t": 1000}]},
              "mark": {"type": "text", "font": "Liberation Sans", "fontSize": 16, "color": "#b4b4b4", "align": "center", "baseline": "middle", "clip": true},
              "encoding": {
                "text": {"field": "t", "type": "quantitative", "format": "d"},
                "x": {"field": "t", "type": "quantitative", "scale": {"domain": [-71.1, 1049.5], "nice": false, "zero": false}, "axis": null},
                "y": {"datum": -123.3, "type": "quantitative", "scale": {"domain": [-148.8, 137.3], "nice": false, "zero": false}, "axis": null}
              }
            },
            {
              "data": {"values": [{"label": "SEGMENTAR:"}]},
              "mark": {"type": "text", "font": "Liberation Sans", "fontSize": 17, "color": "#d6d66a", "align": "left", "baseline": "middle"},
              "encoding": {
                "text": {"field": "label"},
                "x": {"datum": 0.6, "type": "quantitative", "scale": {"domain": [-71.1, 1049.5], "nice": false, "zero": false}, "axis": null},
                "y": {"datum": 127.3, "type": "quantitative", "scale": {"domain": [-148.8, 137.3], "nice": false, "zero": false}, "axis": null}
              }
            },
            {
              "data": {"values": [{"label": "Strain Radial (%)"}]},
              "mark": {"type": "text", "font": "Liberation Sans", "fontSize": 17, "color": "#9a9a9a", "align": "left", "baseline": "middle"},
              "encoding": {
                "text": {"field": "label"},
                "x": {"datum": 148, "type": "quantitative", "scale": {"domain": [-71.1, 1049.5], "nice": false, "zero": false}, "axis": null},
                "y": {"datum": 127.3, "type": "quantitative", "scale": {"domain": [-148.8, 137.3], "nice": false, "zero": false}, "axis": null}
              }
            },
            {
              "data": {"values": [{"label": "AVC*"}]},
              "mark": {"type": "text", "font": "Liberation Sans", "fontSize": 14, "fontWeight": "bold", "color": "#3dc83d", "align": "left", "baseline": "middle"},
              "encoding": {
                "text": {"field": "label"},
                "x": {"datum": 403, "type": "quantitative", "scale": {"domain": [-71.1, 1049.5], "nice": false, "zero": false}, "axis": null},
                "y": {"datum": 106, "type": "quantitative", "scale": {"domain": [-148.8, 137.3], "nice": false, "zero": false}, "axis": null}
              }
            }
          ]
        }
      ]
    },
    {
      "spacing": 0,
      "hconcat": [
        {
          "width": 172, "height": 104,
          "data": {"values": [{"label": "B."}]},
          "mark": {"type": "text", "font": "Liberation Serif", "fontWeight": "bold", "fontSize": 60, "align": "center", "baseline": "alphabetic", "color": "#000000"},
          "encoding": {
            "text": {"field": "label"},
            "x": {"datum": 0.552, "type": "quantitative", "scale": {"domain": [0, 1], "nice": false, "zero": false}, "axis": null},
            "y": {"datum": 0.279, "type": "quantitative", "scale": {"domain": [0, 1], "nice": false, "zero": false}, "axis": null}
          }
        },
        {
          "width": 900, "height": 598,
          "view": {"fill": "#000000", "stroke": null},
          "layer": [
            {
              "data": {"values": [{"v": 38}, {"v": 19}, {"v": 0}, {"v": -19}, {"v": -38}]},
              "mark": {"type": "rule", "color": "#a6a6a6", "strokeWidth": 1.6},
              "encoding": {
                "y": {"field": "v", "type": "quantitative", "scale": {"domain": [-68.2, 66.75], "nice": false, "zero": false}, "axis": null},
                "x": {"datum": 0, "type": "quantitative", "scale": {"domain": [-55.3, 993], "nice": false, "zero": false}, "axis": null},
                "x2": {"datum": 993}
              }
            },
            {
              "data": {"values": [{"t": 0}, {"t": 200}, {"t": 400}, {"t": 600}, {"t": 800}]},
              "mark": {"type": "rule", "color": "#a6a6a6", "strokeWidth": 1.6},
              "encoding": {
                "x": {"field": "t", "type": "quantitative", "scale": {"domain": [-55.3, 993], "nice": false, "zero": false}, "axis": null},
                "y": {"datum": -57, "type": "quantitative", "scale": {"domain": [-68.2, 66.75], "nice": false, "zero": false}, "axis": null},
                "y2": {"datum": 57}
              }
            },
            {
              "data": {"values": [{"v": -57}]},
              "mark": {"type": "rule", "color": "#b4b4b4", "strokeWidth": 3},
              "encoding": {
                "y": {"field": "v", "type": "quantitative", "scale": {"domain": [-68.2, 66.75], "nice": false, "zero": false}, "axis": null},
                "x": {"datum": 0, "type": "quantitative", "scale": {"domain": [-55.3, 993], "nice": false, "zero": false}, "axis": null},
                "x2": {"datum": 993}
              }
            },
            {
              "data": {"values": [{"v": 65.7}, {"v": 57}]},
              "mark": {"type": "rule", "color": "#c8c8a0", "strokeWidth": 1.6, "strokeDash": [2, 2]},
              "encoding": {
                "y": {"field": "v", "type": "quantitative", "scale": {"domain": [-68.2, 66.75], "nice": false, "zero": false}, "axis": null},
                "x": {"datum": 0, "type": "quantitative", "scale": {"domain": [-55.3, 993], "nice": false, "zero": false}, "axis": null},
                "x2": {"datum": 993}
              }
            },
            {
              "data": {"values": [{"t": 114}, {"t": 983}]},
              "mark": {"type": "rule", "color": "#c8c8a0", "strokeWidth": 1.6, "strokeDash": [2, 2]},
              "encoding": {
                "x": {"field": "t", "type": "quantitative", "scale": {"domain": [-55.3, 993], "nice": false, "zero": false}, "axis": null},
                "y": {"datum": 57, "type": "quantitative", "scale": {"domain": [-68.2, 66.75], "nice": false, "zero": false}, "axis": null},
                "y2": {"datum": -57}
              }
            },
            {
              "data": {"values": [{"t": 540}]},
              "mark": {"type": "rule", "color": "#2fa02f", "strokeWidth": 1.6, "strokeDash": [2, 2]},
              "encoding": {
                "x": {"field": "t", "type": "quantitative", "scale": {"domain": [-55.3, 993], "nice": false, "zero": false}, "axis": null},
                "y": {"datum": 57, "type": "quantitative", "scale": {"domain": [-68.2, 66.75], "nice": false, "zero": false}, "axis": null},
                "y2": {"datum": -68.2}
              }
            },
            {
              "data": {"values": [{"t": 541}]},
              "mark": {"type": "rule", "color": "#e03030", "strokeWidth": 2},
              "encoding": {
                "x": {"field": "t", "type": "quantitative", "scale": {"domain": [-55.3, 993], "nice": false, "zero": false}, "axis": null},
                "y": {"datum": -61.5, "type": "quantitative", "scale": {"domain": [-68.2, 66.75], "nice": false, "zero": false}, "axis": null},
                "y2": {"datum": -66.5}
              }
            },
            {
              "data": {"name": "b_curves"},
              "mark": {"type": "line", "strokeWidth": 1.6, "interpolate": "monotone"},
              "encoding": {
                "x": {"field": "t", "type": "quantitative", "scale": {"domain": [-55.3, 993], "nice": false, "zero": false}, "axis": null},
                "y": {"field": "v", "type": "quantitative", "scale": {"domain": [-68.2, 66.75], "nice": false, "zero": false}, "axis": null},
                "color": {"field": "seg", "type": "nominal", "legend": null, "scale": {"domain": ["yellow", "red", "cyan", "blue", "green", "magenta"], "range": ["#c9b870", "#b83232", "#3aa6b5", "#3a5fcd", "#3fae5f", "#b840b8"]}}
              }
            },
            {
              "data": {"name": "b_peaks"},
              "mark": {"type": "point", "shape": "square", "filled": false, "color": "#ffffff", "size": 36, "strokeWidth": 1.2},
              "encoding": {
                "x": {"field": "t", "type": "quantitative", "scale": {"domain": [-55.3, 993], "nice": false, "zero": false}, "axis": null},
                "y": {"field": "v", "type": "quantitative", "scale": {"domain": [-68.2, 66.75], "nice": false, "zero": false}, "axis": null}
              }
            },
            {
              "data": {"name": "b_ecg"},
              "mark": {"type": "line", "color": "#2f9090", "strokeWidth": 1.6, "interpolate": "monotone", "clip": true},
              "encoding": {
                "x": {"field": "t", "type": "quantitative", "scale": {"domain": [-55.3, 993], "nice": false, "zero": false}, "axis": null},
                "y": {"field": "v", "type": "quantitative", "scale": {"domain": [-68.2, 66.75], "nice": false, "zero": false}, "axis": null}
              }
            },
            {
              "data": {"values": [{"v": 57, "label": "57.0"}, {"v": 38, "label": "38.0"}, {"v": 19, "label": "19.0"}, {"v": 0, "label": "0.0"}, {"v": -19, "label": "-19.0"}, {"v": -38, "label": "-38.0"}, {"v": -57, "label": "-57.0"}]},
              "mark": {"type": "text", "font": "Liberation Sans", "fontSize": 16, "color": "#b4b4b4", "align": "right", "baseline": "middle"},
              "encoding": {
                "text": {"field": "label"},
                "y": {"field": "v", "type": "quantitative", "scale": {"domain": [-68.2, 66.75], "nice": false, "zero": false}, "axis": null},
                "x": {"datum": -1, "type": "quantitative", "scale": {"domain": [-55.3, 993], "nice": false, "zero": false}, "axis": null}
              }
            },
            {
              "data": {"values": [{"t": 0}, {"t": 200}, {"t": 400}, {"t": 600}, {"t": 800}, {"t": 1000}]},
              "mark": {"type": "text", "font": "Liberation Sans", "fontSize": 16, "color": "#b4b4b4", "align": "center", "baseline": "middle", "clip": true},
              "encoding": {
                "text": {"field": "t", "type": "quantitative", "format": "d"},
                "x": {"field": "t", "type": "quantitative", "scale": {"domain": [-55.3, 993], "nice": false, "zero": false}, "axis": null},
                "y": {"datum": -59.8, "type": "quantitative", "scale": {"domain": [-68.2, 66.75], "nice": false, "zero": false}, "axis": null}
              }
            },
            {
              "data": {"values": [{"label": "SEGMENTAR:"}]},
              "mark": {"type": "text", "font": "Liberation Sans", "fontSize": 17, "color": "#d6d66a", "align": "left", "baseline": "middle"},
              "encoding": {
                "text": {"field": "label"},
                "x": {"datum": 2.9, "type": "quantitative", "scale": {"domain": [-55.3, 993], "nice": false, "zero": false}, "axis": null},
                "y": {"datum": 62, "type": "quantitative", "scale": {"domain": [-68.2, 66.75], "nice": false, "zero": false}, "axis": null}
              }
            },
            {
              "data": {"values": [{"label": "Strain Radial (%)"}]},
              "mark": {"type": "text", "font": "Liberation Sans", "fontSize": 17, "color": "#9a9a9a", "align": "left", "baseline": "middle"},
              "encoding": {
                "text": {"field": "label"},
                "x": {"datum": 144, "type": "quantitative", "scale": {"domain": [-55.3, 993], "nice": false, "zero": false}, "axis": null},
                "y": {"datum": 62, "type": "quantitative", "scale": {"domain": [-68.2, 66.75], "nice": false, "zero": false}, "axis": null}
              }
            },
            {
              "data": {"values": [{"label": "AVC*"}]},
              "mark": {"type": "text", "font": "Liberation Sans", "fontSize": 14, "fontWeight": "bold", "color": "#3dc83d", "align": "left", "baseline": "middle"},
              "encoding": {
                "text": {"field": "label"},
                "x": {"datum": 545, "type": "quantitative", "scale": {"domain": [-55.3, 993], "nice": false, "zero": false}, "axis": null},
                "y": {"datum": 51.8, "type": "quantitative", "scale": {"domain": [-68.2, 66.75], "nice": false, "zero": false}, "axis": null}
              }
            }
          ]
        }
      ]
    }
  ]
}
